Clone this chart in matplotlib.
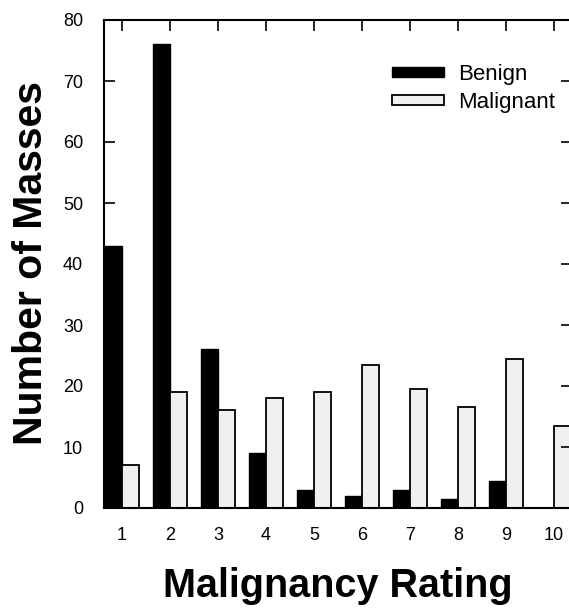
import matplotlib
matplotlib.use("Agg")
import matplotlib.pyplot as plt
import numpy as np

plt.rcParams['font.family'] = ['Liberation Sans', 'DejaVu Sans']

ratings = [1, 2, 3, 4, 5, 6, 7, 8, 9, 10]
benign = [43, 76, 26, 9, 3, 2, 3, 1.5, 4.5, 0]
malignant = [7, 19, 16, 18, 19, 23.5, 19.5, 16.5, 24.5, 13.5]
yticks = [0, 10, 20, 30, 40, 50, 60, 70, 80]

W, H = 569, 609
fig = plt.figure(figsize=(W/100, H/100), dpi=100)
ax = fig.add_axes([104/W, (H-508)/H, 468/W, 488/H])

x = np.array(ratings)
w = 0.36
ax.bar(x - w/2, benign, width=w, color='black', edgecolor='black', linewidth=1.0, label='Benign')
ax.bar(x + w/2, malignant, width=w, color='#f0f0f0', edgecolor='black', linewidth=1.3, label='Malignant')

ax.set_xlim(0.625, 10.375)
ax.set_ylim(0, 80)
ax.set_xticks(ratings)
ax.set_xticklabels([str(r) for r in ratings])
ax.set_yticks(yticks)
ax.tick_params(axis='x', which='both', bottom=False, top=True, direction='in', length=8, width=1.2, labelsize=13, pad=14)
ax.tick_params(axis='y', which='both', left=True, right=True, direction='in', length=8, width=1.2, labelsize=13, pad=15)
for s in ax.spines.values():
    s.set_linewidth(1.5)

fig.text(338/W, (H-597)/H, 'Malignancy Rating', fontsize=28.5, fontweight='bold',
         ha='center', va='baseline')
fig.text(31/W, 1 - 263/H, 'Number of Masses', fontsize=29.5, fontweight='bold',
         rotation=90, ha='center', va='center')

ax.legend(loc='upper left', bbox_to_anchor=(0.615, 0.91), frameon=False, fontsize=16,
          borderpad=0, borderaxespad=0,
          handlelength=2.35, handleheight=0.32, handletextpad=0.63, labelspacing=0.3)

fig.savefig('out.png', dpi=100)
